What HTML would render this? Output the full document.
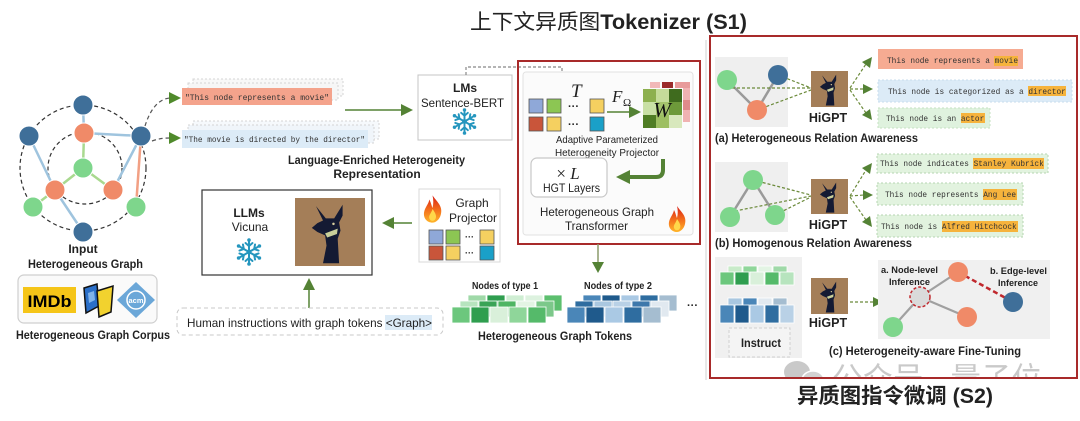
<!DOCTYPE html>
<html><head><meta charset="utf-8">
<style>
html,body{margin:0;padding:0;background:#fff;}
svg{display:block;}
text{font-family:"Liberation Sans","Noto Sans CJK SC",sans-serif;fill:#222;}
.mono{font-family:"Liberation Mono",monospace;font-size:7.8px;fill:#333;}
.b{font-weight:bold;}
.serif{font-family:"Liberation Serif",serif;font-style:italic;}
</style></head>
<body>
<svg width="1080" height="421" viewBox="0 0 1080 421" xmlns="http://www.w3.org/2000/svg">
<defs>
  <linearGradient id="fg" x1="0" y1="1" x2="0" y2="0">
    <stop offset="0" stop-color="#ffb52a"/>
    <stop offset="0.5" stop-color="#f26a1b"/>
    <stop offset="1" stop-color="#d91f16"/>
  </linearGradient>
  <symbol id="flame" viewBox="0 0 20 26">
    <path d="M10,0 C14,6 20,10 18,18 C17,23 13,26 10,26 C5,26 1,22 2,16 C3,11 6,9 7,4 C9,8 9,10 10,12 C11,8 11,4 10,0 Z" fill="url(#fg)"/>
    <path d="M10,13 C13,17 14,20 13,22 C12,25 8,25 7,22 C6,19 9,17 10,13 Z" fill="#ffd84a"/>
  </symbol>
  <symbol id="snow" viewBox="-14 -14 28 28">
    <g stroke="#2596be" stroke-width="2" stroke-linecap="round" fill="none">
      <g id="spk"><line x1="0" y1="0" x2="0" y2="-11"/><polyline points="-3.5,-9 0,-6 3.5,-9"/></g>
      <use href="#spk" transform="rotate(60)"/>
      <use href="#spk" transform="rotate(120)"/>
      <use href="#spk" transform="rotate(180)"/>
      <use href="#spk" transform="rotate(240)"/>
      <use href="#spk" transform="rotate(300)"/>
    </g>
    <g fill="#2596be">
      <circle cx="0" cy="-12" r="1.8"/><circle cx="0" cy="12" r="1.8"/>
      <circle cx="10.4" cy="-6" r="1.8"/><circle cx="-10.4" cy="-6" r="1.8"/>
      <circle cx="10.4" cy="6" r="1.8"/><circle cx="-10.4" cy="6" r="1.8"/>
      <circle cx="0" cy="0" r="2.5"/>
    </g>
  </symbol>
  <symbol id="deer" viewBox="0 0 100 100" preserveAspectRatio="none">
    <rect width="100" height="100" fill="#a47e58"/>
    <path d="M30,12 L44,30 L56,30 L68,10 L68,26 L63,36 L65,48 L61,60 L63,96 L40,96 L45,70 L43,55 L32,50 L24,44 L32,37 L40,33 Z" fill="#141a33"/>
    <polygon points="43,52 61,45 60,53 46,58" fill="#c9cf9a"/>
    <circle cx="55" cy="38" r="1.8" fill="#d8cfa0"/>
  </symbol>
  <clipPath id="wmclip"><rect x="700" y="340" width="380" height="37"/></clipPath>
</defs>

<rect width="1080" height="421" fill="#fff"/>

<!-- Titles -->
<text x="470" y="29" font-size="21" textLength="277" lengthAdjust="spacingAndGlyphs"><tspan>上下文异质图</tspan><tspan class="b">Tokenizer (S1)</tspan></text>

<!-- ============ LEFT GRAPH ============ -->
<g fill="none" stroke="#333" stroke-width="1.2" stroke-dasharray="4 3">
  <circle cx="83" cy="168" r="63"/>
  <ellipse cx="85" cy="168" rx="37" ry="36"/>
</g>
<g stroke-width="2.5" stroke-linecap="round">
  <line x1="83" y1="105" x2="84" y2="133" stroke="#9fc4de"/>
  <line x1="141" y1="136" x2="84" y2="133" stroke="#9fc4de"/>
  <line x1="141" y1="136" x2="113" y2="190" stroke="#9fc4de"/>
  <line x1="29" y1="136" x2="55" y2="190" stroke="#9fc4de"/>
  <line x1="83" y1="232" x2="55" y2="190" stroke="#9fc4de"/>
  <line x1="84" y1="133" x2="83" y2="168" stroke="#a9d98f"/>
  <line x1="83" y1="168" x2="55" y2="190" stroke="#a9d98f"/>
  <line x1="83" y1="168" x2="113" y2="190" stroke="#a9d98f"/>
  <line x1="55" y1="190" x2="33" y2="207" stroke="#a9d98f"/>
  <line x1="141" y1="136" x2="136" y2="207" stroke="#f2a084"/>
</g>
<g stroke="#fff" stroke-width="1">
  <circle cx="83" cy="105" r="10" fill="#3f6f99"/>
  <circle cx="29" cy="136" r="10" fill="#3f6f99"/>
  <circle cx="141" cy="136" r="10" fill="#3f6f99"/>
  <circle cx="83" cy="232" r="10" fill="#3f6f99"/>
  <circle cx="84" cy="133" r="10" fill="#f08a68"/>
  <circle cx="55" cy="190" r="10" fill="#f08a68"/>
  <circle cx="113" cy="190" r="10" fill="#f08a68"/>
  <circle cx="83" cy="168" r="10" fill="#7ed68c"/>
  <circle cx="33" cy="207" r="10" fill="#7ed68c"/>
  <circle cx="136" cy="207" r="10" fill="#7ed68c"/>
</g>
<g fill="none" stroke="#555" stroke-width="1.2" stroke-dasharray="4 3">
  <path d="M145,126 C150,110 158,99 170,98"/>
  <path d="M152,141 C158,139 162,138 170,138"/>
</g>
<polygon points="169,92 181,98 169,104" fill="#4f8a2b"/>
<polygon points="169,132 181,138 169,144" fill="#4f8a2b"/>

<text x="83" y="253" font-size="12" class="b" text-anchor="middle">Input</text>
<text x="28" y="268" font-size="12" class="b" textLength="115" lengthAdjust="spacingAndGlyphs">Heterogeneous Graph</text>

<!-- corpus -->
<rect x="18" y="275" width="139" height="48" rx="6" fill="#fafafa" stroke="#cfcfcf" stroke-width="1.2"/>
<rect x="23" y="287" width="53" height="26" fill="#f5c518"/>
<text x="49.5" y="307" font-size="17" class="b" text-anchor="middle" textLength="44" lengthAdjust="spacingAndGlyphs" style="fill:#000">IMDb</text>
<polygon points="84,288 97,284 99,306 86,313" fill="#2a6fc9" stroke="#111" stroke-width="1.5"/>
<polygon points="97,291 113,286 111,312 99,317" fill="#f2d22e" stroke="#111" stroke-width="1.5"/>
<polygon points="88,293 94,291 95,300 89,303" fill="#7fb3ea"/>
<polygon points="136,282 155,300 136,318 117,300" fill="#6ba7d8"/>
<circle cx="136" cy="300" r="9" fill="none" stroke="#fff" stroke-width="1.5"/>
<text x="136" y="303" font-size="7.5" class="b" text-anchor="middle" style="fill:#fff">acm</text>
<text x="16" y="339" font-size="12" class="b" textLength="154" lengthAdjust="spacingAndGlyphs">Heterogeneous Graph Corpus</text>

<!-- ============ TEXT BOXES ============ -->
<rect x="193" y="79" width="150" height="17" fill="#f8f8f8" stroke="#d4d4d4" stroke-dasharray="2 2"/>
<rect x="188" y="83" width="150" height="17" fill="#f6f6f6" stroke="#d4d4d4" stroke-dasharray="2 2"/>
<rect x="182" y="88" width="150" height="17" fill="#f4a38c"/>
<text class="mono" x="185" y="100" textLength="144" lengthAdjust="spacingAndGlyphs">"This node represents a movie"</text>

<rect x="193" y="121" width="186" height="18" fill="#f6f9fc" stroke="#d4d4d4" stroke-dasharray="2 2"/>
<rect x="188" y="125" width="186" height="18" fill="#f0f5fa" stroke="#d4d4d4" stroke-dasharray="2 2"/>
<rect x="182" y="130" width="186" height="18" fill="#dcebf7"/>
<text class="mono" x="184" y="142" textLength="181" lengthAdjust="spacingAndGlyphs">"The movie is directed by the director"</text>

<line x1="345" y1="110" x2="402" y2="110" stroke="#548235" stroke-width="1.5"/>
<polygon points="401,104 413,110 401,116" fill="#548235"/>

<text x="288" y="164" font-size="12" class="b" textLength="177" lengthAdjust="spacingAndGlyphs">Language-Enriched Heterogeneity</text>
<text x="377" y="178" font-size="12" class="b" text-anchor="middle">Representation</text>

<!-- LMs box -->
<rect x="418" y="75" width="94" height="65" fill="#fff" stroke="#c4c4c4"/>
<text x="465" y="92" font-size="12" class="b" text-anchor="middle">LMs</text>
<text x="421" y="107" font-size="12" textLength="83" lengthAdjust="spacingAndGlyphs">Sentence-BERT</text>
<use href="#snow" x="451" y="108" width="27" height="27"/>

<path d="M466,75 V67 H562 V86" fill="none" stroke="#888" stroke-width="1.2" stroke-dasharray="3 2"/>
<polygon points="557,85 567,85 562,96" fill="#548235"/>

<!-- ============ TRANSFORMER BOX ============ -->
<line x1="706" y1="40" x2="706" y2="380" stroke="#d0d0d0" stroke-width="1"/>
<rect x="523" y="72" width="170" height="163" rx="3" fill="#fbfbfb" stroke="#e2e2e2"/>
<rect x="518" y="61" width="182" height="183" fill="none" stroke="#a82a2a" stroke-width="2"/>

<text class="serif" x="571" y="97" font-size="19">T</text>
<g stroke="#555" stroke-width="0.8">
  <rect x="529" y="99" width="14" height="14" fill="#8fa8d8"/>
  <rect x="547" y="99" width="14" height="14" fill="#8cc653"/>
  <rect x="590" y="99" width="14" height="14" fill="#f5d060"/>
  <rect x="529" y="117" width="14" height="14" fill="#c9553a"/>
  <rect x="547" y="117" width="14" height="14" fill="#f5d060"/>
  <rect x="590" y="117" width="14" height="14" fill="#1aa0c8"/>
</g>
<text x="568" y="110" font-size="11" class="b">···</text>
<text x="568" y="128" font-size="11" class="b">···</text>

<text class="serif" x="612" y="102" font-size="17">F</text>
<text class="serif" x="623" y="106" font-size="11" style="font-style:normal">Ω</text>
<line x1="607" y1="112" x2="630" y2="112" stroke="#548235" stroke-width="1.5"/>
<polygon points="629,106 641,112 629,118" fill="#548235"/>

<!-- W matrix -->
<rect x="650" y="82" width="10" height="6" fill="#f2b8b8"/>
<rect x="662" y="82" width="11" height="6" fill="#9b2b2b"/>
<rect x="675" y="82" width="15" height="6" fill="#e89a9a"/>
<rect x="683" y="88" width="7" height="34" fill="#f0b2b2"/>
<rect x="683" y="100" width="7" height="10" fill="#e08a8a"/>
<g>
  <rect x="643" y="89" width="13" height="13" fill="#8db04f"/>
  <rect x="656" y="89" width="13" height="13" fill="#c5dc9a"/>
  <rect x="669" y="89" width="13" height="13" fill="#3f6b1e"/>
  <rect x="643" y="102" width="13" height="13" fill="#c9e0a5"/>
  <rect x="656" y="102" width="13" height="13" fill="#a5c46d"/>
  <rect x="669" y="102" width="13" height="13" fill="#6d9a3a"/>
  <rect x="643" y="115" width="13" height="13" fill="#4f7d24"/>
  <rect x="656" y="115" width="13" height="13" fill="#9dbf62"/>
  <rect x="669" y="115" width="13" height="13" fill="#d8e8bd"/>
</g>
<text class="serif" x="662" y="117" font-size="21" text-anchor="middle" style="fill:#111">W</text>

<text x="556" y="143" font-size="10.5" textLength="102" lengthAdjust="spacingAndGlyphs">Adaptive Parameterized</text>
<text x="555" y="156" font-size="10.5" textLength="104" lengthAdjust="spacingAndGlyphs">Heterogeneity Projector</text>

<rect x="531" y="158" width="76" height="39" rx="6" fill="#fff" stroke="#c8c8c8" stroke-width="1.2"/>
<text x="568" y="179" font-size="17" text-anchor="middle"><tspan font-family="Liberation Serif, serif">× </tspan><tspan class="serif">L</tspan></text>
<text x="543" y="192" font-size="12" textLength="57" lengthAdjust="spacingAndGlyphs">HGT Layers</text>

<path d="M663,159 V170 Q663,177 656,177 H628" fill="none" stroke="#548235" stroke-width="4"/>
<polygon points="630,170 616,177 630,184" fill="#548235"/>

<text x="540" y="216" font-size="12" textLength="114" lengthAdjust="spacingAndGlyphs">Heterogeneous Graph</text>
<text x="565" y="230" font-size="12" textLength="63" lengthAdjust="spacingAndGlyphs">Transformer</text>
<use href="#flame" x="667" y="206" width="20" height="26"/>

<line x1="598" y1="244" x2="598" y2="264" stroke="#8a9a6a" stroke-width="1.5"/>
<polygon points="592,262 604,262 598,273" fill="#548235"/>

<!-- ============ TOKENS ============ -->
<text x="505" y="289" font-size="10.5" class="b" text-anchor="middle" textLength="66" lengthAdjust="spacingAndGlyphs">Nodes of type 1</text>
<text x="618" y="289" font-size="10.5" class="b" text-anchor="middle" textLength="68" lengthAdjust="spacingAndGlyphs">Nodes of type 2</text>
<g stroke="#fff" stroke-width="0.8">
  <!-- type1 back -->
  <rect x="468" y="295" width="18" height="16" fill="#9fd9a8"/>
  <rect x="487" y="295" width="18" height="16" fill="#2f9e4f"/>
  <rect x="506" y="295" width="18" height="16" fill="#cfeed3"/>
  <rect x="525" y="295" width="18" height="16" fill="#ddf2df"/>
  <rect x="544" y="295" width="18" height="16" fill="#5cbf6e"/>
  <!-- type1 mid -->
  <rect x="460" y="301" width="18" height="16" fill="#b7e4be"/>
  <rect x="479" y="301" width="18" height="16" fill="#3aa356"/>
  <rect x="498" y="301" width="18" height="16" fill="#4fb563"/>
  <rect x="517" y="301" width="18" height="16" fill="#e3f4e4"/>
  <rect x="536" y="301" width="18" height="16" fill="#7cc88a"/>
  <!-- type1 front -->
  <rect x="452" y="307" width="18" height="16" fill="#6cc77d"/>
  <rect x="471" y="307" width="18" height="16" fill="#2f9e4f"/>
  <rect x="490" y="307" width="18" height="16" fill="#d9f0da"/>
  <rect x="509" y="307" width="18" height="16" fill="#8fd69a"/>
  <rect x="528" y="307" width="18" height="16" fill="#55ba6a"/>
  <!-- type2 back -->
  <rect x="583" y="295" width="18" height="16" fill="#4a86b8"/>
  <rect x="602" y="295" width="18" height="16" fill="#1f5a8c"/>
  <rect x="621" y="295" width="18" height="16" fill="#aac9e4"/>
  <rect x="640" y="295" width="18" height="16" fill="#2f6da0"/>
  <rect x="659" y="295" width="18" height="16" fill="#a5bdd0"/>
  <!-- type2 mid -->
  <rect x="575" y="301" width="18" height="16" fill="#2f6da0"/>
  <rect x="594" y="301" width="18" height="16" fill="#a9c7e0"/>
  <rect x="613" y="301" width="18" height="16" fill="#b9d1e6"/>
  <rect x="632" y="301" width="18" height="16" fill="#3e78ab"/>
  <rect x="651" y="301" width="18" height="16" fill="#e1e9f0"/>
  <!-- type2 front -->
  <rect x="567" y="307" width="18" height="16" fill="#4a86b8"/>
  <rect x="586" y="307" width="18" height="16" fill="#1f5a8c"/>
  <rect x="605" y="307" width="18" height="16" fill="#aac9e4"/>
  <rect x="624" y="307" width="18" height="16" fill="#2f6da0"/>
  <rect x="643" y="307" width="18" height="16" fill="#a5bdd0"/>
</g>
<text x="687" y="309" font-size="11" class="b">···</text>
<text x="478" y="340" font-size="12" class="b" textLength="154" lengthAdjust="spacingAndGlyphs">Heterogeneous Graph Tokens</text>

<!-- ============ LLM BOX ============ -->
<rect x="202" y="190" width="170" height="85" fill="#fff" stroke="#333" stroke-width="1.2"/>
<text x="249" y="217" font-size="12" class="b" text-anchor="middle">LLMs</text>
<text x="250" y="231" font-size="12" text-anchor="middle">Vicuna</text>
<use href="#snow" x="235" y="238" width="28" height="28"/>
<use href="#deer" x="295" y="198" width="70" height="68"/>

<rect x="419" y="189" width="81" height="73" fill="#fff" stroke="#d8d8d8"/>
<use href="#flame" x="422" y="195" width="21" height="28"/>
<text x="472" y="207" font-size="12" text-anchor="middle">Graph</text>
<text x="449" y="222" font-size="12" textLength="48" lengthAdjust="spacingAndGlyphs">Projector</text>
<g stroke="#555" stroke-width="0.8">
  <rect x="429" y="230" width="14" height="14" fill="#8fa8d8"/>
  <rect x="446" y="230" width="14" height="14" fill="#8cc653"/>
  <rect x="480" y="230" width="14" height="14" fill="#f5d060"/>
  <rect x="429" y="246" width="14" height="14" fill="#c9553a"/>
  <rect x="446" y="246" width="14" height="14" fill="#f5d060"/>
  <rect x="480" y="246" width="14" height="14" fill="#1aa0c8"/>
</g>
<text x="465" y="240" font-size="9" class="b">···</text>
<text x="465" y="256" font-size="9" class="b">···</text>

<line x1="412" y1="223" x2="393" y2="223" stroke="#548235" stroke-width="1.5"/>
<polygon points="394,217 382,223 394,229" fill="#548235"/>

<line x1="309" y1="308" x2="309" y2="288" stroke="#548235" stroke-width="1.5"/>
<polygon points="303,290 315,290 309,278" fill="#548235"/>

<rect x="177" y="308" width="266" height="27" rx="6" fill="#fff" stroke="#c8c8c8" stroke-dasharray="4 3"/>
<rect x="385" y="315" width="47" height="15" fill="#dcebf7"/>
<text x="187" y="327" font-size="12" textLength="245" lengthAdjust="spacingAndGlyphs">Human instructions with graph tokens &lt;Graph&gt;</text>

<!-- ============ RIGHT PANEL ============ -->
<rect x="710" y="36" width="367" height="342" fill="none" stroke="#a82a2a" stroke-width="2"/>

<!-- (a) -->
<rect x="715" y="57" width="73" height="70" fill="#efefef"/>
<g stroke="#9a9a9a" stroke-width="2.5">
  <line x1="727" y1="80" x2="757" y2="110"/>
  <line x1="757" y1="110" x2="778" y2="75"/>
</g>
<g stroke="#6b8a3a" stroke-width="1.2" stroke-dasharray="3 2" fill="none">
  <line x1="727" y1="88" x2="811" y2="88"/>
  <line x1="778" y1="75" x2="811" y2="88"/>
  <line x1="757" y1="110" x2="811" y2="90"/>
  <line x1="850" y1="88" x2="866" y2="64"/>
  <line x1="850" y1="89" x2="864" y2="89"/>
  <line x1="850" y1="90" x2="866" y2="113"/>
</g>
<circle cx="727" cy="80" r="10" fill="#7ed68c"/>
<circle cx="778" cy="75" r="10" fill="#3f6f99"/>
<circle cx="757" cy="110" r="10" fill="#f08a68"/>
<use href="#deer" x="811" y="71" width="37" height="36"/>
<text x="828" y="122" font-size="12.5" class="b" text-anchor="middle">HiGPT</text>
<g fill="#548235">
  <polygon points="862,62 872,57 870,68"/>
  <polygon points="863,84 873,89 863,94"/>
  <polygon points="862,115 872,120 870,109"/>
</g>
<rect x="878" y="49" width="145" height="20" fill="#f6ab92"/>
<rect x="994" y="56" width="24" height="10" fill="#f6b33c"/>
<text class="mono" x="887" y="63">This node represents a movie</text>
<rect x="878" y="80" width="194" height="22" fill="#dcebf7" stroke="#c9dcec" stroke-dasharray="2 2"/>
<rect x="1028" y="86" width="38" height="10" fill="#f6b33c"/>
<text class="mono" x="888" y="94">This node is categorized as a director</text>
<rect x="878" y="108" width="112" height="20" fill="#dff2de" stroke="#c5e2c2" stroke-dasharray="2 2"/>
<rect x="961" y="113" width="24" height="10" fill="#f6b33c"/>
<text class="mono" x="886" y="121">This node is an actor</text>
<text x="715" y="142" font-size="11.5" class="b" textLength="203" lengthAdjust="spacingAndGlyphs">(a) Heterogeneous Relation Awareness</text>

<!-- (b) -->
<rect x="715" y="162" width="73" height="70" fill="#efefef"/>
<g stroke="#9a9a9a" stroke-width="2.5">
  <line x1="753" y1="180" x2="730" y2="217"/>
  <line x1="753" y1="180" x2="775" y2="215"/>
</g>
<g stroke="#6b8a3a" stroke-width="1.2" stroke-dasharray="3 2" fill="none">
  <line x1="730" y1="212" x2="811" y2="196"/>
  <line x1="753" y1="180" x2="811" y2="195"/>
  <line x1="775" y1="215" x2="811" y2="197"/>
  <line x1="850" y1="196" x2="866" y2="170"/>
  <line x1="850" y1="196" x2="864" y2="195"/>
  <line x1="850" y1="197" x2="866" y2="220"/>
</g>
<circle cx="753" cy="180" r="10" fill="#7ed68c"/>
<circle cx="730" cy="217" r="10" fill="#7ed68c"/>
<circle cx="775" cy="215" r="10" fill="#7ed68c"/>
<use href="#deer" x="811" y="179" width="37" height="35"/>
<text x="828" y="229" font-size="12.5" class="b" text-anchor="middle">HiGPT</text>
<g fill="#548235">
  <polygon points="862,168 872,163 870,174"/>
  <polygon points="863,190 873,195 863,200"/>
  <polygon points="862,222 872,227 870,216"/>
</g>
<rect x="877" y="154" width="171" height="19" fill="#e2f3df" stroke="#b5d6b0" stroke-dasharray="2 2"/>
<rect x="973" y="158" width="71" height="11" fill="#f6b33c"/>
<text class="mono" x="880" y="166">This node indicates Stanley Kubrick</text>
<rect x="877" y="183" width="146" height="22" fill="#e2f3df" stroke="#b5d6b0" stroke-dasharray="2 2"/>
<rect x="983" y="189" width="34" height="11" fill="#f6b33c"/>
<text class="mono" x="885" y="197">This node represents Ang Lee</text>
<rect x="877" y="215" width="146" height="22" fill="#e2f3df" stroke="#b5d6b0" stroke-dasharray="2 2"/>
<rect x="942" y="221" width="76" height="11" fill="#f6b33c"/>
<text class="mono" x="881" y="229">This node is Alfred Hitchcock</text>
<text x="715" y="247" font-size="11.5" class="b" textLength="197" lengthAdjust="spacingAndGlyphs">(b) Homogenous Relation Awareness</text>

<!-- (c) -->
<rect x="715" y="257" width="87" height="101" fill="#f0f0f0"/>
<g stroke="#fff" stroke-width="0.8">
  <rect x="728" y="266" width="14" height="10" fill="#c8ebc9"/>
  <rect x="743" y="266" width="14" height="10" fill="#8fd69a"/>
  <rect x="758" y="266" width="14" height="10" fill="#e3f4e4"/>
  <rect x="773" y="266" width="14" height="10" fill="#9fd9a8"/>
  <rect x="720" y="272" width="14" height="13" fill="#6cc77d"/>
  <rect x="735" y="272" width="14" height="13" fill="#2f9e4f"/>
  <rect x="750" y="272" width="14" height="13" fill="#d9f0da"/>
  <rect x="765" y="272" width="14" height="13" fill="#55ba6a"/>
  <rect x="780" y="272" width="14" height="13" fill="#b7e4be"/>
  <rect x="728" y="298" width="14" height="10" fill="#a9c7e0"/>
  <rect x="743" y="298" width="14" height="10" fill="#4a86b8"/>
  <rect x="758" y="298" width="14" height="10" fill="#e1e9f0"/>
  <rect x="773" y="298" width="14" height="10" fill="#a5bdd0"/>
  <rect x="720" y="305" width="14" height="18" fill="#4a86b8"/>
  <rect x="735" y="305" width="14" height="18" fill="#1f5a8c"/>
  <rect x="750" y="305" width="14" height="18" fill="#aac9e4"/>
  <rect x="765" y="305" width="14" height="18" fill="#2f6da0"/>
  <rect x="780" y="305" width="14" height="18" fill="#b9d1e6"/>
</g>
<rect x="729" y="328" width="61" height="29" fill="#f4f4f4" stroke="#cfcfcf" stroke-dasharray="3 2"/>
<text x="741" y="347" font-size="11.5" class="b" textLength="40" lengthAdjust="spacingAndGlyphs">Instruct</text>

<use href="#deer" x="811" y="278" width="37" height="36"/>
<text x="828" y="327" font-size="12.5" class="b" text-anchor="middle">HiGPT</text>
<line x1="850" y1="302" x2="874" y2="302" stroke="#6b8a3a" stroke-width="1.2" stroke-dasharray="3 2"/>
<polygon points="873,297 883,302 873,307" fill="#548235"/>

<rect x="878" y="260" width="172" height="79" fill="#f0f0f0"/>
<g stroke="#a0a0a0" stroke-width="2.2">
  <line x1="920" y1="297" x2="958" y2="272"/>
  <line x1="920" y1="297" x2="967" y2="317"/>
  <line x1="920" y1="297" x2="893" y2="327"/>
</g>
<line x1="958" y1="272" x2="1013" y2="302" stroke="#c0282d" stroke-width="2.5" stroke-dasharray="5 3"/>
<circle cx="958" cy="272" r="10" fill="#f08a68"/>
<circle cx="967" cy="317" r="10" fill="#f08a68"/>
<circle cx="893" cy="327" r="10" fill="#7ed68c"/>
<circle cx="1013" cy="302" r="10" fill="#3f6f99"/>
<circle cx="920" cy="297" r="10" fill="#dadada" stroke="#c0282d" stroke-width="1.5" stroke-dasharray="3 2"/>
<text x="881" y="273" font-size="9.5" class="b" textLength="57" lengthAdjust="spacingAndGlyphs">a. Node-level</text>
<text x="889" y="285" font-size="9.5" class="b" textLength="41" lengthAdjust="spacingAndGlyphs">Inference</text>
<text x="990" y="274" font-size="9.5" class="b" textLength="57" lengthAdjust="spacingAndGlyphs">b. Edge-level</text>
<text x="998" y="286" font-size="9.5" class="b" textLength="40" lengthAdjust="spacingAndGlyphs">Inference</text>
<text x="829" y="355" font-size="11.5" class="b" textLength="192" lengthAdjust="spacingAndGlyphs">(c) Heterogeneity-aware Fine-Tuning</text>

<!-- watermark -->
<g clip-path="url(#wmclip)" opacity="0.75">
  <ellipse cx="797" cy="372" rx="13" ry="11" fill="#b8b8b8"/>
  <ellipse cx="813" cy="380" rx="11" ry="9" fill="#c4c4c4" stroke="#fff" stroke-width="1.5"/>
  <text x="832" y="390" font-size="32" style="fill:#b8b8b8" textLength="210" lengthAdjust="spacingAndGlyphs">公众号 · 量子位</text>
</g>

<text x="797" y="403" font-size="21" class="b" textLength="196" lengthAdjust="spacingAndGlyphs">异质图指令微调 (S2)</text>
</svg>
</body></html>
